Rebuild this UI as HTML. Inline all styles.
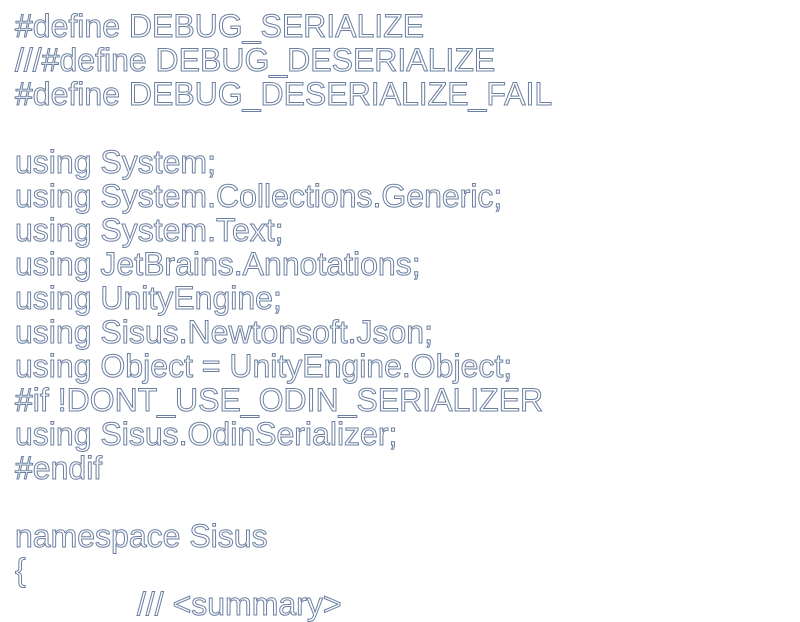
<!DOCTYPE html>
<html><head><meta charset="utf-8"><style>
html,body{margin:0;padding:0;background:#fff;width:800px;height:600px;overflow:hidden}
pre{margin:0;position:absolute;left:15px;top:9px;font-family:"Liberation Sans",sans-serif;font-size:32px;line-height:34px;color:#fff;-webkit-text-stroke:1px #6a7fa0;white-space:pre}
.i{padding-left:122px}
</style></head><body><pre>#define DEBUG_SERIALIZE
///#define DEBUG_DESERIALIZE
#define DEBUG_DESERIALIZE_FAIL

using System;
using System.Collections.Generic;
using System.Text;
using JetBrains.Annotations;
using UnityEngine;
using Sisus.Newtonsoft.Json;
using Object = UnityEngine.Object;
#if !DONT_USE_ODIN_SERIALIZER
using Sisus.OdinSerializer;
#endif

namespace Sisus
{
<span class="i">/// &lt;summary&gt;</span></pre></body></html>
